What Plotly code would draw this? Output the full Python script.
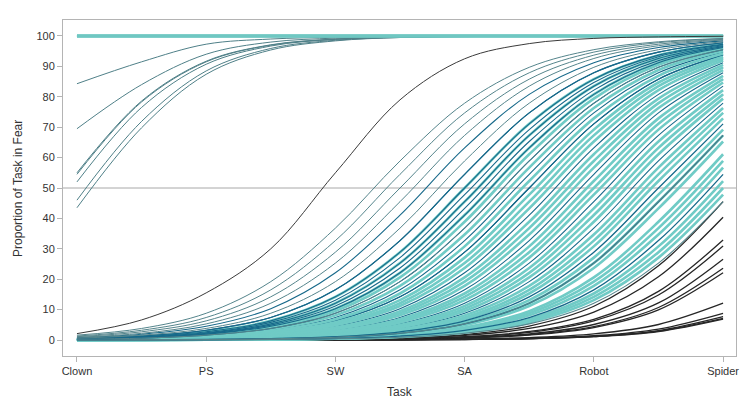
import plotly.graph_objects as go

tasks = ['Clown', 'PS', 'SW', 'SA', 'Robot', 'Spider']
# curves are read at every task and half way between tasks
x_pos = [0, 0.5, 1, 1.5, 2, 2.5, 3, 3.5, 4, 4.5, 5]

# Proportion (%) of each task in fear, one row per person
top_flat = [
    [100, 100, 100, 100, 100, 100, 100, 100, 100, 100, 100],
    [100, 100, 100, 100, 100, 100, 100, 100, 100, 100, 100],
    [100, 100, 100, 100, 100, 100, 100, 100, 100, 100, 100],
]

top_group = [
    [84.3, 91.5, 97.3, 99.0, 99.6, 99.85, 99.95, 100, 100, 100, 100],
    [69.5, 84.0, 94.0, 98.0, 99.3, 99.75, 99.9, 100, 100, 100, 100],
    [55.0, 78.6, 91.7, 97.1, 99.0, 99.65, 99.9, 100, 100, 100, 100],
    [54.5, 78.3, 91.5, 97.0, 98.9, 99.6, 99.9, 100, 100, 100, 100],
    [52.0, 76.5, 90.7, 96.7, 98.9, 99.6, 99.9, 100, 100, 100, 100],
    [46.0, 71.9, 88.5, 95.9, 98.6, 99.5, 99.8, 99.95, 100, 100, 100],
    [43.5, 69.8, 87.4, 95.4, 98.4, 99.5, 99.8, 99.95, 100, 100, 100],
]

early_black = [2.1, 6.6, 15.5, 30.0, 55.0, 79.0, 92.5, 97.5, 99.2, 99.7, 99.9]

gray_teal = [
    [1.6, 3.8, 8.8, 19.2, 36.8, 58.9, 77.9, 89.7, 95.5, 98.1, 99.2],
    [1.3, 3.2, 7.4, 16.5, 32.7, 54.5, 74.7, 87.9, 94.7, 97.8, 99.1],
    [1.1, 2.7, 6.3, 14.2, 28.9, 50.0, 71.1, 85.8, 93.7, 97.3, 98.9],
    [0.9, 2.2, 5.3, 12.1, 25.3, 45.5, 67.3, 83.5, 92.6, 96.8, 98.7],
    [0.6, 1.6, 3.8, 8.8, 19.2, 36.8, 58.9, 77.9, 89.7, 95.5, 98.1],
    [0.26, 0.6, 1.6, 3.8, 8.8, 19.2, 36.8, 58.9, 77.9, 89.7, 95.5],
    [0.03, 0.06, 0.15, 0.4, 0.9, 2.2, 5.3, 12.1, 25.3, 45.5, 67.3],
    [0.01, 0.03, 0.06, 0.15, 0.4, 0.9, 2.2, 5.3, 12.1, 25.3, 45.5],
]

# dark teal people who cross 50% before SA
dark_teal_early = [
    [0.8, 1.9, 4.5, 10.3, 22.1, 41.1, 63.2, 80.8, 91.2, 96.2, 98.4],
    [0.5, 1.3, 3.2, 7.4, 16.5, 32.7, 54.5, 74.7, 87.9, 94.7, 97.8],
    [0.5, 1.3, 3.2, 7.4, 16.5, 32.7, 54.5, 74.7, 87.9, 94.7, 97.8],
    [0.45, 1.1, 2.7, 6.3, 14.2, 28.9, 50.0, 71.1, 85.8, 93.7, 97.3],
    [0.42, 1.0, 2.4, 5.8, 13.1, 27.1, 47.8, 69.2, 84.7, 93.2, 97.1],
    [0.4, 0.9, 2.2, 5.3, 12.1, 25.3, 45.5, 67.3, 83.5, 92.6, 96.8],
    [0.35, 0.85, 2.0, 4.9, 11.2, 23.7, 43.3, 65.3, 82.2, 91.9, 96.5],
    [0.3, 0.8, 1.9, 4.5, 10.3, 22.1, 41.1, 63.2, 80.8, 91.2, 96.2],
    [0.26, 0.6, 1.6, 3.8, 8.8, 19.2, 36.8, 58.9, 77.9, 89.7, 95.5],
]

# dark teal people who cross 50% between SA and Robot
dark_teal_mid = [
    [0.22, 0.5, 1.3, 3.2, 7.4, 16.5, 32.7, 54.5, 74.7, 87.9, 94.7],
    [0.2, 0.48, 1.2, 2.9, 6.8, 15.3, 30.8, 52.3, 72.9, 86.9, 94.2],
    [0.18, 0.45, 1.1, 2.7, 6.3, 14.2, 28.9, 50.0, 71.1, 85.8, 93.7],
    [0.18, 0.45, 1.1, 2.7, 6.3, 14.2, 28.9, 50.0, 71.1, 85.8, 93.7],
    [0.15, 0.4, 0.9, 2.2, 5.3, 12.1, 25.3, 45.5, 67.3, 83.5, 92.6],
    [0.14, 0.35, 0.85, 2.0, 4.9, 11.2, 23.7, 43.3, 65.3, 82.2, 91.9],
    [0.13, 0.3, 0.8, 1.9, 4.5, 10.3, 22.1, 41.1, 63.2, 80.8, 91.2],
    [0.11, 0.26, 0.6, 1.6, 3.8, 8.8, 19.2, 36.8, 58.9, 77.9, 89.7],
    [0.09, 0.22, 0.5, 1.3, 3.2, 7.4, 16.5, 32.7, 54.5, 74.7, 87.9],
    [0.07, 0.18, 0.45, 1.1, 2.7, 6.3, 14.2, 28.9, 50.0, 71.1, 85.8],
    [0.06, 0.15, 0.4, 0.9, 2.2, 5.3, 12.1, 25.3, 45.5, 67.3, 83.5],
    [0.05, 0.13, 0.3, 0.8, 1.9, 4.5, 10.3, 22.1, 41.1, 63.2, 80.8],
    [0.04, 0.11, 0.26, 0.6, 1.6, 3.8, 8.8, 19.2, 36.8, 58.9, 77.9],
    [0.04, 0.09, 0.22, 0.5, 1.3, 3.2, 7.4, 16.5, 32.7, 54.5, 74.7],
]

# dark teal people still low at Robot
dark_teal_late = [
    [0.03, 0.07, 0.18, 0.45, 1.1, 2.7, 6.3, 14.2, 28.9, 50.0, 71.1],
    [0.03, 0.06, 0.15, 0.4, 0.9, 2.2, 5.3, 12.1, 25.3, 45.5, 67.3],
    [0.01, 0.04, 0.09, 0.22, 0.5, 1.3, 3.2, 7.4, 16.5, 32.7, 54.5],
]

light_teal = [
    [0.45, 1.1, 2.7, 6.3, 14.2, 28.9, 50.0, 71.1, 85.8, 93.7, 97.3],
    [0.4, 0.9, 2.2, 5.3, 12.1, 25.3, 45.5, 67.3, 83.5, 92.6, 96.8],
    [0.3, 0.8, 1.9, 4.5, 10.3, 22.1, 41.1, 63.2, 80.8, 91.2, 96.2],
    [0.28, 0.7, 1.7, 4.1, 9.5, 20.6, 38.9, 61.1, 79.4, 90.5, 95.9],
    [0.24, 0.55, 1.4, 3.5, 8.1, 17.8, 34.7, 56.7, 76.3, 88.8, 95.1],
    [0.2, 0.48, 1.2, 2.9, 6.8, 15.3, 30.8, 52.3, 72.9, 86.9, 94.2],
    [0.17, 0.42, 1.0, 2.4, 5.8, 13.1, 27.1, 47.8, 69.2, 84.7, 93.2],
    [0.15, 0.4, 0.9, 2.2, 5.3, 12.1, 25.3, 45.5, 67.3, 83.5, 92.6],
    [0.14, 0.35, 0.85, 2.0, 4.9, 11.2, 23.7, 43.3, 65.3, 82.2, 91.9],
    [0.12, 0.28, 0.7, 1.7, 4.1, 9.5, 20.6, 38.9, 61.1, 79.4, 90.5],
    [0.11, 0.26, 0.6, 1.6, 3.8, 8.8, 19.2, 36.8, 58.9, 77.9, 89.7],
    [0.1, 0.24, 0.55, 1.4, 3.5, 8.1, 17.8, 34.7, 56.7, 76.3, 88.8],
    [0.08, 0.2, 0.48, 1.2, 2.9, 6.8, 15.3, 30.8, 52.3, 72.9, 86.9],
    [0.07, 0.18, 0.45, 1.1, 2.7, 6.3, 14.2, 28.9, 50.0, 71.1, 85.8],
    [0.07, 0.17, 0.42, 1.0, 2.4, 5.8, 13.1, 27.1, 47.8, 69.2, 84.7],
    [0.06, 0.14, 0.35, 0.85, 2.0, 4.9, 11.2, 23.7, 43.3, 65.3, 82.2],
    [0.05, 0.13, 0.3, 0.8, 1.9, 4.5, 10.3, 22.1, 41.1, 63.2, 80.8],
    [0.05, 0.12, 0.28, 0.7, 1.7, 4.1, 9.5, 20.6, 38.9, 61.1, 79.4],
    [0.04, 0.1, 0.24, 0.55, 1.4, 3.5, 8.1, 17.8, 34.7, 56.7, 76.3],
    [0.04, 0.09, 0.22, 0.5, 1.3, 3.2, 7.4, 16.5, 32.7, 54.5, 74.7],
    [0.03, 0.08, 0.2, 0.48, 1.2, 2.9, 6.8, 15.3, 30.8, 52.3, 72.9],
    [0.03, 0.07, 0.17, 0.42, 1.0, 2.4, 5.8, 13.1, 27.1, 47.8, 69.2],
    [0.03, 0.06, 0.15, 0.4, 0.9, 2.2, 5.3, 12.1, 25.3, 45.5, 67.3],
    [0.02, 0.06, 0.14, 0.35, 0.85, 2.0, 4.9, 11.2, 23.7, 43.3, 65.3],
    [0.02, 0.05, 0.12, 0.28, 0.7, 1.7, 4.1, 9.5, 20.6, 38.9, 61.1],
    [0.02, 0.04, 0.11, 0.26, 0.6, 1.6, 3.8, 8.8, 19.2, 36.8, 58.9],
    [0.02, 0.04, 0.1, 0.24, 0.55, 1.4, 3.5, 8.1, 17.8, 34.7, 56.7],
    [0.01, 0.03, 0.08, 0.2, 0.48, 1.2, 2.9, 6.8, 15.3, 30.8, 52.3],
    [0.01, 0.03, 0.07, 0.18, 0.45, 1.1, 2.7, 6.3, 14.2, 28.9, 50.0],
    [0.01, 0.03, 0.07, 0.17, 0.42, 1.0, 2.4, 5.8, 13.1, 27.1, 47.8],
]

bottom_black = [
    [0.01, 0.02, 0.04, 0.11, 0.28, 0.7, 1.8, 4.6, 11.1, 24.4, 45.5],
    [0.0, 0.01, 0.03, 0.09, 0.23, 0.6, 1.5, 3.8, 9.2, 20.8, 40.4],
    [0.0, 0.01, 0.03, 0.07, 0.17, 0.43, 1.1, 2.8, 6.8, 16.0, 32.9],
    [0.0, 0.01, 0.02, 0.06, 0.15, 0.39, 1.0, 2.5, 6.3, 14.8, 30.9],
    [0.0, 0.01, 0.02, 0.05, 0.12, 0.31, 0.8, 2.0, 5.1, 12.2, 26.6],
    [0.0, 0.01, 0.02, 0.04, 0.1, 0.27, 0.7, 1.8, 4.4, 10.7, 23.6],
    [0.0, 0.0, 0.01, 0.04, 0.09, 0.24, 0.6, 1.6, 4.1, 9.9, 22.1],
    [0.0, 0.0, 0.01, 0.02, 0.05, 0.12, 0.3, 0.8, 2.0, 5.1, 12.1],
    [0.0, 0.0, 0.0, 0.01, 0.03, 0.08, 0.2, 0.55, 1.4, 3.6, 8.8],
    [0.0, 0.0, 0.0, 0.01, 0.03, 0.07, 0.18, 0.48, 1.2, 3.1, 7.7],
    [0.0, 0.0, 0.0, 0.01, 0.03, 0.07, 0.17, 0.44, 1.1, 2.9, 7.1],
    [0.0, 0.0, 0.0, 0.01, 0.02, 0.06, 0.16, 0.42, 1.1, 2.8, 6.9],
]

fig = go.Figure()


def add_lines(rows, color, width):
    for row in rows:
        fig.add_trace(go.Scatter(
            x=x_pos, y=row, mode='lines',
            line=dict(color=color, width=width, shape='spline', smoothing=1.0),
            hoverinfo='skip', showlegend=False
        ))


# 50% reference line
fig.add_hline(y=50, line=dict(color='#a8a8a8', width=1), layer='below')

add_lines(bottom_black, '#262626', 1.3)
add_lines(dark_teal_mid, '#17698a', 1.1)
add_lines(light_teal, '#70cbc6', 2.6)
add_lines(dark_teal_late, '#17698a', 1.3)
add_lines(gray_teal[6:], '#55858c', 1.1)
add_lines(dark_teal_early, '#17698a', 1.1)
add_lines(gray_teal[:6], '#55858c', 1)
add_lines(top_group, '#4f8088', 1)
add_lines(top_flat, '#6fc7c2', 3)
add_lines([early_black], '#3a3a3a', 1)

fig.add_annotation(
    text='Proportion of Task in Fear', textangle=-90,
    xref='paper', yref='paper', x=-0.067, y=0.5,
    xanchor='center', yanchor='middle', showarrow=False,
    font=dict(size=12, color='#333333')
)
fig.add_annotation(
    text='Task', xref='paper', yref='paper', x=0.5, y=-0.107,
    xanchor='center', yanchor='middle', showarrow=False,
    font=dict(size=12, color='#333333')
)

# the page body has an 8px margin, so the figure is drawn 8px smaller
fig.update_layout(
    width=746, height=401,
    margin=dict(l=55, r=18, t=12, b=53),
    plot_bgcolor='white', paper_bgcolor='white',
    font=dict(family='Liberation Sans, Arial, sans-serif', size=11, color='#333333'),
    xaxis=dict(
        range=[-0.108, 5.1], tickvals=list(range(len(tasks))), ticktext=tasks,
        showgrid=False, zeroline=False, automargin=False,
        showline=True, linecolor='#b4b4b4', mirror=True,
        ticks='outside', ticklen=5, tickcolor='#b4b4b4'
    ),
    yaxis=dict(
        range=[-5.26, 105.26], tickvals=list(range(0, 101, 10)),
        showgrid=False, zeroline=False, automargin=False,
        showline=True, linecolor='#b4b4b4', mirror=True,
        ticks='outside', ticklen=5, tickcolor='#b4b4b4'
    ),
)

fig.write_html("out.html")
